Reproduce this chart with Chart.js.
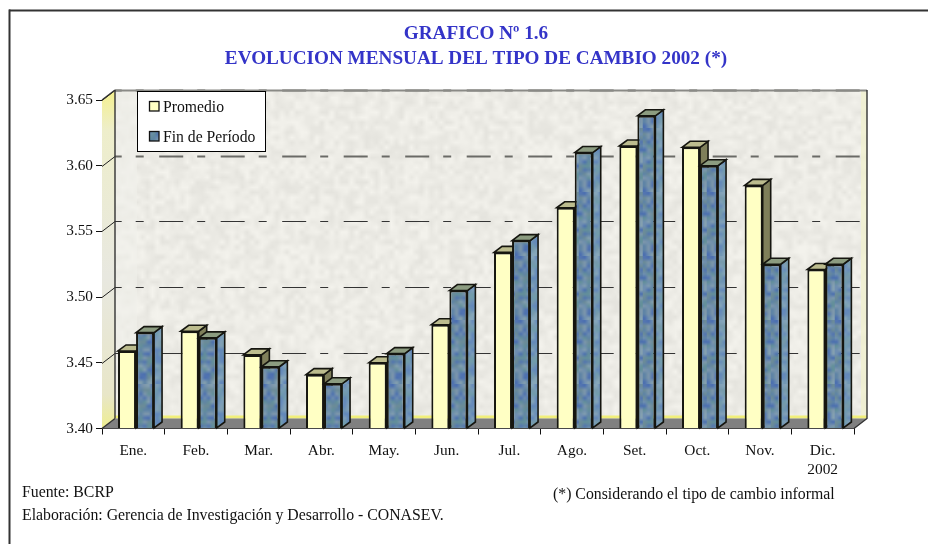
<!DOCTYPE html>
<html><head><meta charset="utf-8">
<style>html,body{margin:0;padding:0;background:#fff}canvas{display:block}</style>
<script src="https://cdn.jsdelivr.net/npm/chart.js@4"></script>
</head><body><div style="width:928px;height:544px;position:relative"><canvas id="c" width="928" height="544"></canvas></div>
<script>
const months = ['Ene.','Feb.','Mar.','Abr.','May.','Jun.','Jul.','Ago.','Set.','Oct.','Nov.',['Dic.','2002']];
const promedio = [3.459,3.474,3.456,3.441,3.450,3.479,3.534,3.568,3.615,3.614,3.585,3.521];
const finPeriodo = [3.473,3.469,3.447,3.434,3.457,3.505,3.543,3.610,3.638,3.600,3.525,3.525];
const yMin = 3.40, yMax = 3.65, yStep = 0.05;
const titleLines = ['GRAFICO Nº 1.6','EVOLUCION MENSUAL DEL TIPO DE CAMBIO 2002 (*)'];
const notes = [
  ['Fuente: BCRP',22,493],
  ['Elaboración: Gerencia de Investigación y Desarrollo - CONASEV.',22,516],
  ['(*) Considerando el tipo de cambio informal',553,495]
];
const FONT = '"Liberation Serif","Times New Roman",serif';
const DX = 13, DY = 10, BDX = 8, BDY = 6, SHIFT = 2.7;

// deterministic texture noise (decorative only, never used for data)
function noiseGen(seed){let s=seed;return ()=>{s=(s*1664525+1013904223)>>>0;return s/4294967296;};}
function mosaic(){
  const sm=document.createElement('canvas');sm.width=16;sm.height=16;const x=sm.getContext('2d');const r=noiseGen(7);
  const cols=['#6f8fb0','#5476b0','#64909a','#7e98ac','#5f84a6','#84a0b0','#4c70b0','#6c8c98'];
  for(let i=0;i<16;i++)for(let j=0;j<16;j++){x.fillStyle=cols[Math.floor(r()*cols.length)];x.fillRect(i,j,1,1);}
  const c=document.createElement('canvas');c.width=64;c.height=64;const b=c.getContext('2d');
  b.imageSmoothingEnabled=true;b.imageSmoothingQuality='low';b.drawImage(sm,0,0,64,64);
  return c;
}
const mosaicCanvas=mosaic();
function mosaicPattern(){return document.createElement('canvas').getContext('2d').createPattern(mosaicCanvas,'repeat');}
const blueFill=mosaicPattern();
function wallTexture(w,h){
  const sm=document.createElement('canvas');sm.width=Math.ceil(w/5);sm.height=Math.ceil(h/5);
  const x=sm.getContext('2d');const r=noiseGen(11);
  for(let i=0;i<sm.width;i++)for(let j=0;j<sm.height;j++){
    const v=226+Math.floor(r()*16);x.fillStyle=`rgb(${v+3},${v+2},${v-4})`;x.fillRect(i,j,1,1);}
  const big=document.createElement('canvas');big.width=w;big.height=h;
  const b=big.getContext('2d');b.imageSmoothingEnabled=true;b.drawImage(sm,0,0,w,h);return big;
}

const cube3d={
  id:'cube3d',
  afterLayout(chart){ if(chart.titleBlock){chart.titleBlock.left-=2;chart.titleBlock.right-=2;} },
  beforeDatasetsDraw(chart){
    const {ctx,chartArea:a}=chart;const L=a.left,R=a.right,T=a.top,B=a.bottom,y=chart.scales.y;
    ctx.save();
    const w=R-L,h=B-T;
    ctx.drawImage(wallTexture(Math.round(w),Math.round(h)),L+DX,T-DY,w,h);
    ctx.fillStyle='rgba(240,240,205,.75)';ctx.fillRect(R+DX-6,T-DY,6,h);
    ctx.fillStyle='rgba(240,240,235,.55)';ctx.fillRect(L+DX,T-DY,22,h);
    ctx.fillStyle='#f1ef7a';ctx.fillRect(L+DX,B-DY-3,w,3);
    const g=ctx.createLinearGradient(0,T-DY,0,B);
    g.addColorStop(0,'#f4f08c');g.addColorStop(.12,'#eeeecb');g.addColorStop(.55,'#e8e8e0');g.addColorStop(.9,'#e8e6c8');g.addColorStop(1,'#eeee90');
    ctx.fillStyle=g;ctx.beginPath();ctx.moveTo(L,T);ctx.lineTo(L+DX,T-DY);ctx.lineTo(L+DX,B-DY);ctx.lineTo(L,B);ctx.closePath();ctx.fill();
    ctx.fillStyle='#808080';ctx.beginPath();ctx.moveTo(L,B);ctx.lineTo(L+DX,B-DY);ctx.lineTo(R+DX,B-DY);ctx.lineTo(R,B);ctx.closePath();ctx.fill();
    y.ticks.forEach(t=>{
      if(t.value<=yMin+1e-6)return;
      const py=Math.round(y.getPixelForValue(t.value));
      ctx.strokeStyle='#222';ctx.lineWidth=1;ctx.setLineDash([]);
      ctx.beginPath();ctx.moveTo(L,py+.5);ctx.lineTo(L+DX,py-DY+.5);ctx.stroke();
      const up=py-DY<170;
      ctx.strokeStyle=up?'#6a6a66':'#333';ctx.lineWidth=up?2:1;
      ctx.setLineDash([24,14,8,15.5]);ctx.lineDashOffset=17.3;
      ctx.beginPath();ctx.moveTo(L+DX,py-DY+.5);ctx.lineTo(R+DX-6,py-DY+.5);ctx.stroke();
      ctx.setLineDash([]);
    });
    ctx.setLineDash([]);
    ctx.strokeStyle='#8a8a86';ctx.lineWidth=2;ctx.beginPath();ctx.moveTo(L+DX,T-DY+.5);ctx.lineTo(R+DX,T-DY+.5);ctx.stroke();
    ctx.strokeStyle='#333';ctx.lineWidth=1.4;
    ctx.beginPath();ctx.moveTo(L+DX,T-DY);ctx.lineTo(L+DX,B-DY);ctx.stroke();
    ctx.beginPath();ctx.moveTo(R+DX,T-DY);ctx.lineTo(R+DX,B-DY);ctx.lineTo(R,B);ctx.stroke();
    ctx.beginPath();ctx.moveTo(L,T);ctx.lineTo(L+DX,T-DY);ctx.stroke();
    ctx.beginPath();ctx.moveTo(L,B);ctx.lineTo(L+DX,B-DY);ctx.stroke();
    ctx.restore();
  },
  beforeDatasetDraw(){return false;},
  afterDatasetsDraw(chart){
    const {ctx}=chart;
    const m0=chart.getDatasetMeta(0).data,m1=chart.getDatasetMeta(1).data;
    ctx.save();ctx.translate(SHIFT,0);
    for(let i=0;i<m0.length;i++){
      [[m0[i],0],[m1[i],1]].forEach(([el,k])=>{
        const hw=el.width/2,x1=el.x-hw,x2=el.x+hw,top=el.y,base=el.base;
        ctx.lineWidth=1.6;ctx.strokeStyle='#161610';ctx.lineJoin='miter';
        ctx.beginPath();ctx.moveTo(x2,top);ctx.lineTo(x2+BDX,top-BDY);ctx.lineTo(x2+BDX,base-BDY);ctx.lineTo(x2,base);ctx.closePath();
        if(k===0){ctx.fillStyle='#7f7f5a';ctx.fill();}
        else{ctx.fillStyle=blueFill;ctx.fill();ctx.fillStyle='rgba(140,180,205,.35)';ctx.fill();}
        ctx.stroke();
        ctx.beginPath();ctx.moveTo(x1,top);ctx.lineTo(x1+BDX,top-BDY);ctx.lineTo(x2+BDX,top-BDY);ctx.lineTo(x2,top);ctx.closePath();
        ctx.fillStyle=k===0?'#bcbc8e':'#8c9c80';ctx.fill();ctx.stroke();
        el.draw(ctx);
      });
    }
    ctx.restore();
    ctx.save();
    ctx.fillStyle='#fff';ctx.fillRect(137.5,91.5,128,60);
    ctx.strokeStyle='#000';ctx.lineWidth=1;ctx.strokeRect(137.5,91.5,128,60);
    const ly=[106.5,136.5];
    chart.data.datasets.forEach((d,i)=>{
      ctx.fillStyle=d.backgroundColor;ctx.fillRect(149.5,ly[i]-5,9.5,9.5);
      ctx.strokeStyle='#111';ctx.lineWidth=1.3;ctx.strokeRect(149.5,ly[i]-5,9.5,9.5);
      ctx.fillStyle='#111';ctx.font='15.7px '+FONT;ctx.textAlign='left';ctx.textBaseline='middle';
      ctx.fillText(d.label,163,ly[i]+1.5);
    });
    ctx.restore();
  },
  afterDraw(chart){
    const {ctx}=chart;ctx.save();
    ctx.fillStyle='#333';ctx.fillRect(9,9.5,919,2);ctx.fillRect(8.5,9.5,2,535);
    ctx.fillStyle='#111';ctx.font='15.8px '+FONT;ctx.textAlign='left';ctx.textBaseline='middle';
    notes.forEach(n=>ctx.fillText(n[0],n[1],n[2]));
    ctx.restore();
  }
};

new Chart(document.getElementById('c'),{
  type:'bar',
  data:{labels:months,datasets:[
    {label:'Promedio',data:promedio,base:yMin,backgroundColor:'#ffffc4',borderColor:'#161610',borderWidth:2,categoryPercentage:0.575,barPercentage:1},
    {label:'Fin de Período',data:finPeriodo,base:yMin,backgroundColor:blueFill,borderColor:'#161610',borderWidth:2,categoryPercentage:0.575,barPercentage:1}
  ]},
  plugins:[cube3d],
  options:{
    responsive:false,animation:false,
    layout:{padding:{left:0,right:74,top:0,bottom:0}},
    plugins:{
      legend:{display:false},tooltip:{enabled:false},
      title:{display:true,text:titleLines,fullSize:false,color:'#3434c8',align:'center',
        font:{family:FONT,size:19.2,weight:'bold',lineHeight:'25px'},padding:{top:22,bottom:28}}
    },
    scales:{
      x:{
        afterFit(s){s.height=544-428.5;},
        grid:{display:true,offset:true,drawOnChartArea:false,color:'#111',tickLength:6,lineWidth:1},
        border:{display:true,color:'#111'},
        ticks:{color:'#111',font:{family:FONT,size:15.4,lineHeight:1.25},padding:7,maxRotation:0,autoSkip:false}
      },
      y:{
        min:yMin,max:yMax,
        afterFit(s){s.width=102;},
        grid:{display:true,drawOnChartArea:false,color:'#111',tickLength:6},
        border:{display:true,color:'#111'},
        ticks:{stepSize:yStep,color:'#111',font:{family:FONT,size:15.3},padding:3,callback:v=>Number(v).toFixed(2)}
      }
    }
  }
});
</script></body></html>
